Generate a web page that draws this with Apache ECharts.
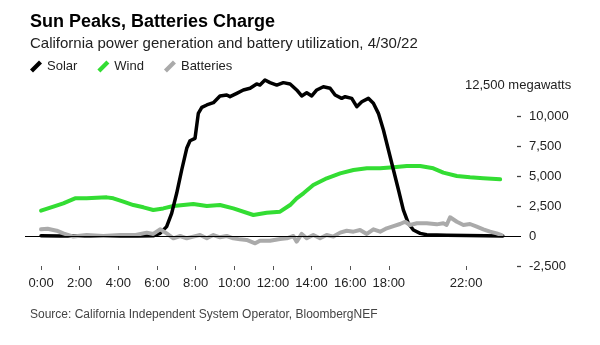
<!DOCTYPE html>
<html>
<head>
<meta charset="utf-8">
<script src="https://cdn.jsdelivr.net/npm/echarts@6/dist/echarts.min.js"></script>
<style>
html,body{margin:0;padding:0;background:#fff;}
#chart{width:600px;height:345px;}
</style>
</head>
<body>
<div id="chart"></div>
<script>
// ---- data (hours of day, megawatts) ----
const xTickHours = [0, 2, 4, 6, 8, 10, 12, 14, 16, 18, 22];
const yTicks = [-2500, 0, 2500, 5000, 7500, 10000, 12500];

const solarHours = [0, 1, 2, 3, 4, 5, 5.81, 6.16, 6.5, 6.76, 7.02, 7.28, 7.54, 7.71, 7.97, 8.14, 8.32, 8.58, 8.92, 9.26, 9.61, 9.78, 10.13, 10.47, 10.82, 11.16, 11.33, 11.59, 11.85, 12.2, 12.54, 12.89, 13.23, 13.49, 13.75, 14.01, 14.27, 14.61, 14.96, 15.22, 15.56, 15.74, 16.08, 16.34, 16.6, 16.94, 17.2, 17.46, 17.72, 17.98, 18.24, 18.5, 18.75, 19.01, 19.27, 19.62, 19.96, 21, 22, 23, 23.9];
const solarMW = [20, 0, 0, 0, 0, 0, 20, 220, 780, 1890, 3560, 5500, 7310, 7940, 8140, 10220, 10720, 10920, 11110, 11670, 11750, 11610, 11890, 12170, 12310, 12670, 12580, 13000, 12780, 12580, 12780, 12670, 12170, 11670, 11940, 11670, 12170, 12440, 12310, 11750, 11470, 11610, 11470, 10780, 11190, 11470, 11060, 10220, 8830, 7170, 5500, 3830, 2170, 1060, 500, 220, 100, 60, 50, 30, 10];

const windHours = [0, 0.64, 1.15, 1.76, 2.36, 3.4, 3.74, 4.26, 4.78, 5.3, 5.81, 6.33, 6.85, 7.88, 8.58, 9.26, 9.95, 10.99, 11.68, 12.37, 12.89, 13.23, 13.58, 14.09, 14.79, 15.48, 16.17, 16.86, 17.55, 18.24, 18.93, 19.62, 20.3, 20.82, 21.52, 22.2, 22.89, 23.76];
const windMW = [2110, 2445, 2720, 3140, 3140, 3220, 3140, 2860, 2580, 2390, 2170, 2300, 2500, 2670, 2500, 2580, 2300, 1750, 1940, 2030, 2580, 3140, 3560, 4250, 4810, 5220, 5500, 5640, 5640, 5720, 5830, 5830, 5640, 5280, 5000, 4890, 4810, 4720];

const batteryHours = [0, 0.34, 0.81, 1.15, 1.67, 2.36, 3.22, 4.1, 4.9, 5.47, 5.81, 6.16, 6.5, 6.85, 7.2, 7.54, 7.88, 8.23, 8.58, 8.92, 9.26, 9.61, 9.95, 10.3, 10.64, 11.08, 11.33, 11.85, 12.37, 12.72, 13.06, 13.23, 13.49, 13.75, 14.09, 14.44, 14.78, 15.13, 15.48, 15.82, 16.17, 16.51, 16.86, 17.2, 17.55, 17.89, 18.24, 18.58, 18.84, 19.1, 19.45, 19.96, 20.48, 20.82, 20.99, 21.17, 21.52, 21.86, 22.2, 22.55, 22.89, 23.24, 23.58, 23.84];
const batteryMW = [560, 600, 440, 220, -50, 80, 0, 80, 80, 280, 170, 560, 220, -190, 0, -190, -50, 80, -190, 80, -110, 0, -190, -280, -330, -610, -390, -390, -250, -190, 0, -470, 170, -190, 80, -190, 80, -50, 280, 440, 360, 500, 170, 560, 360, 640, 830, 1000, 1190, 920, 1060, 1060, 970, 1060, 920, 1560, 1190, 920, 1000, 780, 560, 360, 220, 80];

// ---- chart ----
const FONT = '"Liberation Sans", Arial, Helvetica, sans-serif';
const pair = (xs, ys) => xs.map((x, i) => [x, ys[i]]);
const icon = 'path://M0,9 L9,0 L12,3 L3,12 Z';

const chart = echarts.init(document.getElementById('chart'), null, {renderer: 'canvas'});
chart.setOption({
  animation: false,
  backgroundColor: '#fff',
  textStyle: {fontFamily: FONT},
  title: [
    {text: 'Sun Peaks, Batteries Charge', left: 25, top: 8,
     textStyle: {fontFamily: FONT, fontSize: 18, fontWeight: 'bold', color: '#000'}},
    {text: 'California power generation and battery utilization, 4/30/22', left: 25, top: 31,
     textStyle: {fontFamily: FONT, fontSize: 15, fontWeight: 'normal', color: '#222'}},
    {text: 'Source: California Independent System Operator, BloombergNEF', left: 25, top: 304,
     textStyle: {fontFamily: FONT, fontSize: 12, fontWeight: 'normal', color: '#444'}}
  ],
  legend: {
    left: 25, top: 55, itemWidth: 12, itemHeight: 12, itemGap: 20,
    icon: icon,
    textStyle: {fontFamily: FONT, fontSize: 13, color: '#222'},
    data: ['Solar', 'Wind', 'Batteries'],
    selectedMode: false
  },
  graphic: [
    {type: 'text', left: 465, top: 79,
     style: {text: '12,500 megawatts', font: '13px ' + FONT, fill: '#222'}}
  ],
  grid: {left: 25, right: 79, top: 86, bottom: 79, containLabel: false},
  xAxis: {
    type: 'value', min: -0.83, max: 24.84,
    axisLine: {show: false, onZero: false},
    splitLine: {show: false},
    axisTick: {show: true, length: 4, customValues: xTickHours, lineStyle: {color: '#555', width: 1}},
    axisLabel: {customValues: xTickHours, margin: 11, fontFamily: FONT, fontSize: 13, color: '#222',
      formatter: v => v + ':00'}
  },
  yAxis: {
    type: 'value', position: 'right', min: -2500, max: 12500, interval: 2500,
    axisLine: {show: false, onZero: false},
    splitLine: {show: false},
    axisTick: {show: true, inside: true, length: 4,
      customValues: yTicks.filter(v => v !== 0 && v !== 12500),
      lineStyle: {color: '#444', width: 1.3}},
    axisLabel: {margin: 8, fontFamily: FONT, fontSize: 13, color: '#222',
      formatter: v => v === 12500 ? '' : v.toLocaleString('en-US')}
  },
  series: [
    {name: 'Solar', type: 'line', data: pair(solarHours, solarMW), showSymbol: false, symbol: 'none',
     z: 3, color: '#000', clip: false,
     lineStyle: {color: '#000', width: 3.5, cap: 'round', join: 'round'}},
    {name: 'Wind', type: 'line', data: pair(windHours, windMW), showSymbol: false, symbol: 'none',
     z: 2, color: '#33dd33', clip: false,
     lineStyle: {color: '#33dd33', width: 4, cap: 'round', join: 'round'},
     markLine: {silent: true, symbol: ['none', 'none'], label: {show: false},
       lineStyle: {color: '#000', width: 1, type: 'solid'}, data: [{yAxis: 0}]}},
    {name: 'Batteries', type: 'line', data: pair(batteryHours, batteryMW), showSymbol: false, symbol: 'none',
     z: 4, color: '#aaaaaa', clip: false,
     lineStyle: {color: '#aaaaaa', width: 4, cap: 'round', join: 'round'}}
  ]
});
</script>
</body>
</html>
